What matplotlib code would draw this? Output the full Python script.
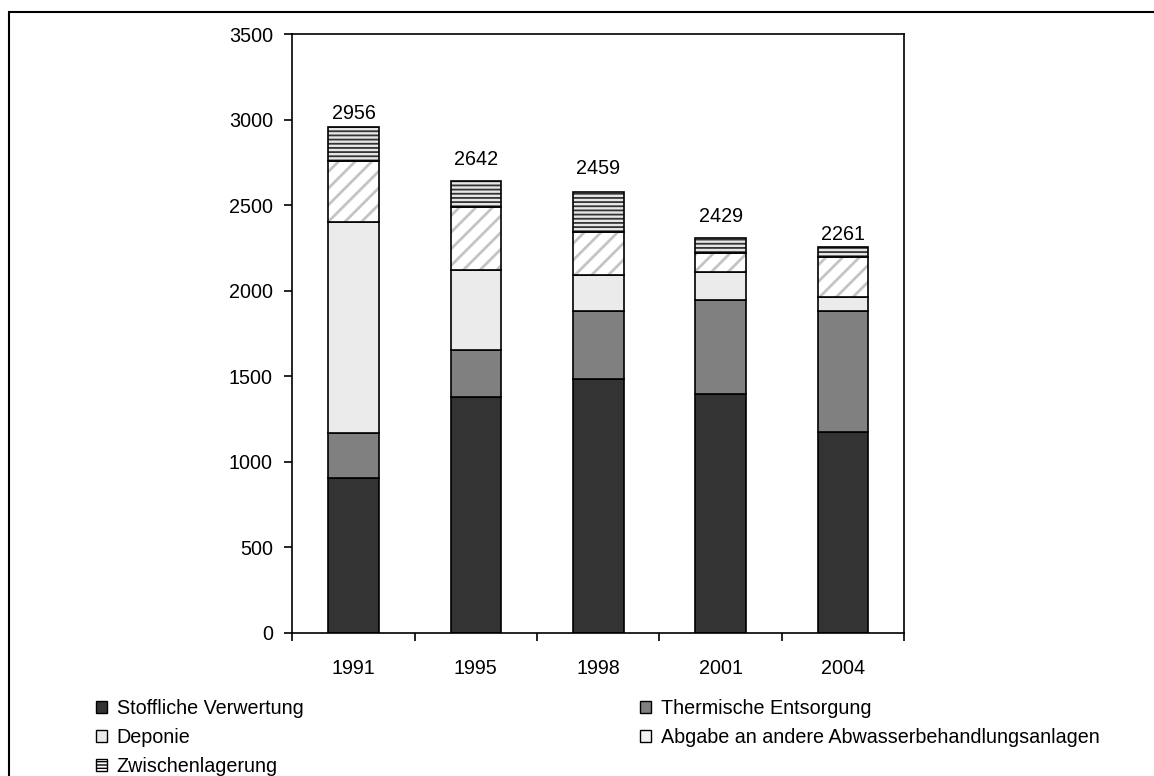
import matplotlib
matplotlib.use("Agg")
import numpy as np
from matplotlib import pyplot as plt
from matplotlib.patches import Patch, Rectangle

plt.rcParams['font.family'] = ['Liberation Sans', 'DejaVu Sans']

# Daten
jahre = ['1991', '1995', '1998', '2001', '2004']
stofflich = [903, 1380, 1484, 1398, 1175]
thermisch = [263, 273, 397, 549, 706]
deponie = [1237, 470, 211, 161, 84]
abgabe = [357, 368, 250, 111, 230]
zwischen = [196, 149, 237, 89, 62]
summen_text = ['2956', '2642', '2459', '2429', '2261']

namen = ['Stoffliche Verwertung', 'Thermische Entsorgung', 'Deponie',
         'Abgabe an andere Abwasserbehandlungsanlagen', 'Zwischenlagerung']

fig = plt.figure(figsize=(11.54, 7.76), dpi=100)
ax = fig.add_axes([0.2533, 0.1847, 0.5301, 0.7711])

x = np.arange(len(jahre))
breite = 0.414
fs = 14.2

unten = np.zeros(len(jahre))
# Stoffliche / Thermische / Deponie: einfache Füllung
for werte, farbe in [(stofflich, '#333333'), (thermisch, '#808080'), (deponie, '#ebebeb')]:
    ax.bar(x, werte, breite, bottom=unten, color=farbe, edgecolor='black', linewidth=1.2)
    unten += werte

# Abgabe: weiß mit grauen Schrägstreifen
with plt.rc_context({'hatch.linewidth': 2.0}):
    ax.bar(x, abgabe, breite, bottom=unten, color='white', edgecolor='#c4c4c4',
           hatch='//', linewidth=0)
ax.bar(x, abgabe, breite, bottom=unten, fill=False, edgecolor='black', linewidth=1.2)
unten += abgabe

# Zwischenlagerung: waagerechte Linien
with plt.rc_context({'hatch.linewidth': 1.3}):
    ax.bar(x, zwischen, breite, bottom=unten, color='#e6e6e6', edgecolor='#333333',
           hatch='----', linewidth=0)
ax.bar(x, zwischen, breite, bottom=unten, fill=False, edgecolor='black', linewidth=1.2)
unten += zwischen

# Beschriftung über den Säulen
abstand = [3, 9, 10, 9, 2]
for i, txt in enumerate(summen_text):
    ax.annotate(txt, (x[i], unten[i]), xytext=(0, abstand[i]), textcoords='offset points',
                ha='center', va='bottom', fontsize=fs)

ax.set_xlim(-0.5, len(jahre) - 0.5)
ax.set_ylim(0, 3500)
ax.set_yticks(np.arange(0, 3501, 500))
ax.set_xticks(np.arange(len(jahre) + 1) - 0.5)
ax.set_xticklabels([])
ax.set_xticks(x, minor=True)
ax.set_xticklabels(jahre, minor=True)
ax.tick_params(axis='x', which='minor', length=0, pad=19, labelsize=fs)
ax.tick_params(axis='x', which='major', length=6, width=1.2, direction='out')
ax.tick_params(axis='y', length=6, width=1.2, direction='out', pad=8, labelsize=fs)
for s in ax.spines.values():
    s.set_linewidth(1.2)

# Legende in zwei Spalten
def handle(i):
    if i == 0:
        return Patch(facecolor='#333333', edgecolor='black', linewidth=1)
    if i == 1:
        return Patch(facecolor='#808080', edgecolor='black', linewidth=1)
    if i == 2:
        return Patch(facecolor='#ebebeb', edgecolor='black', linewidth=1)
    if i == 3:
        return Patch(facecolor='#f4f4f4', edgecolor='black', linewidth=1)
    return Patch(facecolor='white', edgecolor='black', hatch='-----', linewidth=1)

opts = dict(frameon=False, fontsize=fs, handlelength=0.55, handleheight=0.55,
            handletextpad=0.5, labelspacing=0.5, borderpad=0, borderaxespad=0,
            loc='upper left')
leg1 = fig.legend([handle(i) for i in (0, 2, 4)], [namen[i] for i in (0, 2, 4)],
                  bbox_to_anchor=(96 / 1154, 1 - 699 / 776), **opts)
leg2 = fig.legend([handle(i) for i in (1, 3)], [namen[i] for i in (1, 3)],
                  bbox_to_anchor=(640 / 1154, 1 - 699 / 776), **opts)

# Rahmen um das Diagramm
fig.patches.append(Rectangle((9 / 1154, -0.2), 1.3, 1.2 - 12 / 776,
                             transform=fig.transFigure, fill=False,
                             edgecolor='black', linewidth=1.5))

fig.savefig('out.png', dpi=100)
